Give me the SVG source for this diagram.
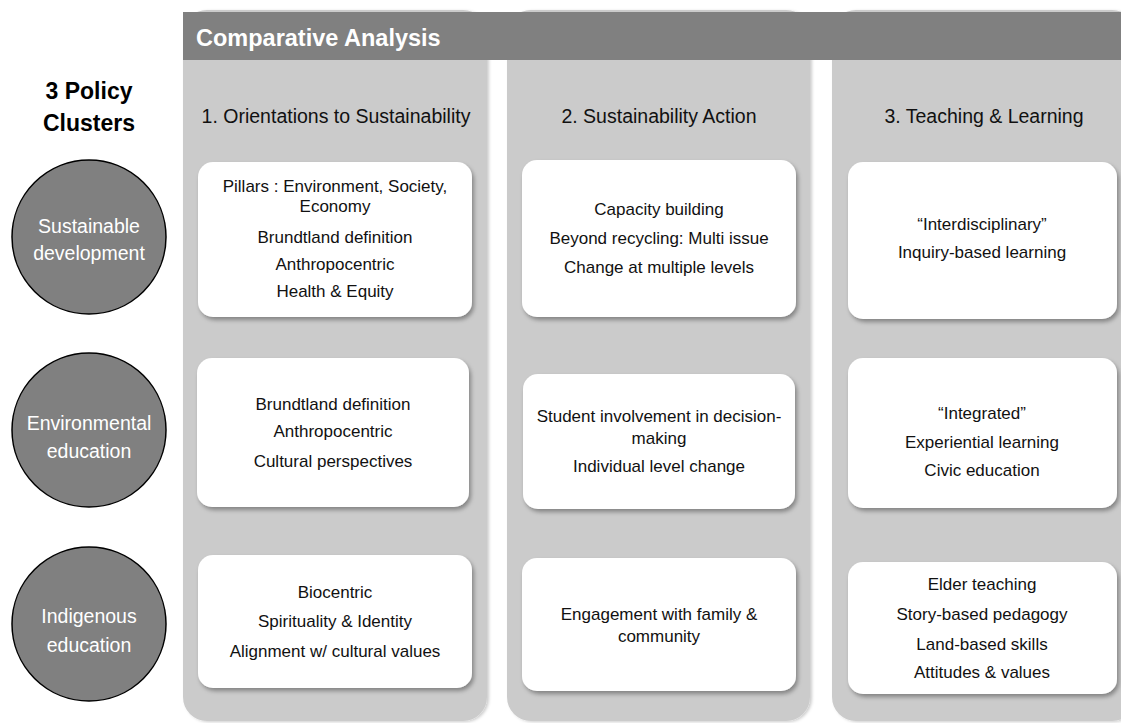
<svg xmlns="http://www.w3.org/2000/svg" width="1121" height="723" viewBox="0 0 1121 723">
<defs>
<filter id="sh" x="-10%" y="-10%" width="125%" height="130%">
<feDropShadow dx="2" dy="3" stdDeviation="2" flood-color="#000" flood-opacity="0.35"/>
</filter>
<filter id="psh" x="-5%" y="-5%" width="115%" height="110%">
<feDropShadow dx="2" dy="1" stdDeviation="1.5" flood-color="#000" flood-opacity="0.2"/>
</filter>
</defs>
<style>
.panel{fill:#cbcbcb;}
.box{fill:#ffffff;}
.t{font-family:"Liberation Sans",Arial,sans-serif;font-size:17px;fill:#111;text-anchor:middle;}
.ch{font-family:"Liberation Sans",Arial,sans-serif;font-size:19.5px;fill:#111;text-anchor:middle;}
.ct{font-family:"Liberation Sans",Arial,sans-serif;font-size:19.5px;fill:#fff;text-anchor:middle;}
.circ{fill:#808080;stroke:#000;stroke-width:1.5;}
.ttl{font-family:"Liberation Sans",Arial,sans-serif;font-size:23.5px;font-weight:bold;fill:#fff;}
.lbl{font-family:"Liberation Sans",Arial,sans-serif;font-size:23px;font-weight:bold;fill:#000;text-anchor:middle;}
</style>
<rect width="1121" height="723" fill="#fff"/>
<g id="panels" filter="url(#psh)">
<rect class="panel" x="183" y="10" width="304" height="711" rx="24"/>
<rect class="panel" x="507" y="10" width="303" height="711" rx="24"/>
<rect class="panel" x="832" y="10" width="304" height="711" rx="24"/>
</g>
<g id="header">
<rect x="183" y="12" width="945" height="48" fill="#808080"/>
<text class="ttl" x="196" y="46">Comparative Analysis</text>
</g>
<g id="label">
<text class="lbl" x="89" y="99">3 Policy</text>
<text class="lbl" x="89" y="131">Clusters</text>
</g>
<g id="colheads">
<text class="ch" x="336" y="123">1. Orientations to Sustainability</text>
<text class="ch" x="659" y="123">2. Sustainability Action</text>
<text class="ch" x="984" y="123">3. Teaching &amp; Learning</text>
</g>
<g id="c-sd"><circle class="circ" cx="89" cy="237" r="77"/><text class="ct" x="89" y="233">Sustainable</text><text class="ct" x="89" y="260">development</text></g>
<g id="c-ee"><circle class="circ" cx="89" cy="430" r="77"/><text class="ct" x="89" y="430">Environmental</text><text class="ct" x="89" y="458">education</text></g>
<g id="c-ie"><circle class="circ" cx="89" cy="624" r="77"/><text class="ct" x="89" y="623">Indigenous</text><text class="ct" x="89" y="652">education</text></g>

<g id="b11"><rect class="box" filter="url(#sh)" x="198" y="162" width="274" height="155" rx="15"/>
<text class="t" x="335" y="192">Pillars : Environment, Society,</text><text class="t" x="335" y="212">Economy</text>
<text class="t" x="335" y="243">Brundtland definition</text><text class="t" x="335" y="270">Anthropocentric</text><text class="t" x="335" y="297">Health &amp; Equity</text></g>
<g id="b12"><rect class="box" filter="url(#sh)" x="522" y="160" width="274" height="157" rx="15"/>
<text class="t" x="659" y="215">Capacity building</text><text class="t" x="659" y="244">Beyond recycling: Multi issue</text><text class="t" x="659" y="273">Change at multiple levels</text></g>
<g id="b13"><rect class="box" filter="url(#sh)" x="848" y="162" width="269" height="157" rx="15"/>
<text class="t" x="982" y="230">“Interdisciplinary”</text><text class="t" x="982" y="258">Inquiry-based learning</text></g>

<g id="b21"><rect class="box" filter="url(#sh)" x="197" y="358" width="272" height="149" rx="15"/>
<text class="t" x="333" y="410">Brundtland definition</text><text class="t" x="333" y="437">Anthropocentric</text><text class="t" x="333" y="467">Cultural perspectives</text></g>
<g id="b22"><rect class="box" filter="url(#sh)" x="523" y="374" width="272" height="135" rx="15"/>
<text class="t" x="659" y="422">Student involvement in decision-</text><text class="t" x="659" y="444">making</text><text class="t" x="659" y="472">Individual level change</text></g>
<g id="b23"><rect class="box" filter="url(#sh)" x="848" y="358" width="269" height="150" rx="15"/>
<text class="t" x="982" y="419">“Integrated”</text><text class="t" x="982" y="448">Experiential learning</text><text class="t" x="982" y="476">Civic education</text></g>

<g id="b31"><rect class="box" filter="url(#sh)" x="198" y="555" width="274" height="133" rx="15"/>
<text class="t" x="335" y="598">Biocentric</text><text class="t" x="335" y="627">Spirituality &amp; Identity</text><text class="t" x="335" y="657">Alignment w/ cultural values</text></g>
<g id="b32"><rect class="box" filter="url(#sh)" x="522" y="558" width="274" height="133" rx="15"/>
<text class="t" x="659" y="620">Engagement with family &amp;</text><text class="t" x="659" y="642">community</text></g>
<g id="b33"><rect class="box" filter="url(#sh)" x="848" y="562" width="269" height="132" rx="15"/>
<text class="t" x="982" y="590">Elder teaching</text><text class="t" x="982" y="620">Story-based pedagogy</text><text class="t" x="982" y="650">Land-based skills</text><text class="t" x="982" y="678">Attitudes &amp; values</text></g>
<g id="connectors"></g>
</svg>
